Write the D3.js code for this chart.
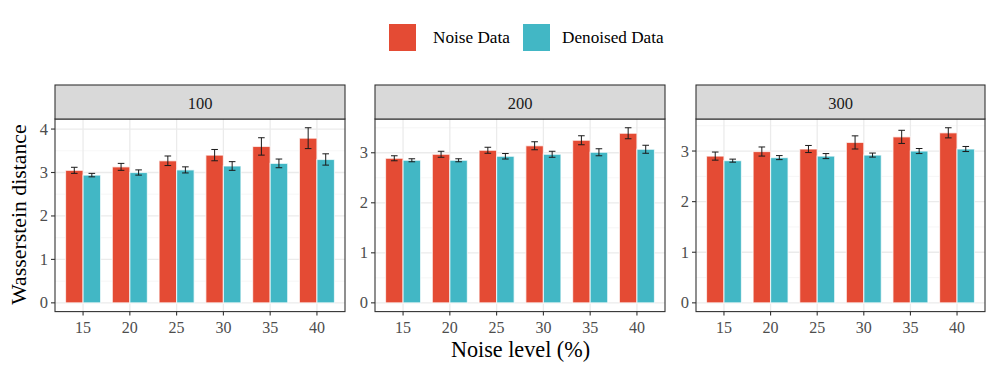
<!DOCTYPE html>
<html>
<head>
<meta charset="utf-8">
<script src="https://cdn.jsdelivr.net/npm/d3@7"></script>
<style>
 body { margin: 0; background: #fff; }
</style>
</head>
<body>
<div id="chart"></div>
<script>
// data
var noiseLevels = [15, 20, 25, 30, 35, 40];
var facets = ["100", "200", "300"];
var seriesNames = ["Noise Data", "Denoised Data"];
var colors = ["#E44B34", "#42B7C5"];

var noiseMean = {
 "100": [3.05, 3.13, 3.27, 3.40, 3.60, 3.79],
 "200": [2.89, 2.97, 3.05, 3.14, 3.25, 3.39],
 "300": [2.90, 2.99, 3.04, 3.17, 3.28, 3.36]
};
var noiseErr = {
 "100": [0.07, 0.08, 0.11, 0.13, 0.20, 0.24],
 "200": [0.05, 0.06, 0.06, 0.08, 0.09, 0.11],
 "300": [0.08, 0.09, 0.07, 0.13, 0.13, 0.10]
};
var denoisedMean = {
 "100": [2.94, 3.00, 3.06, 3.15, 3.21, 3.30],
 "200": [2.85, 2.85, 2.93, 2.97, 3.01, 3.07],
 "300": [2.81, 2.87, 2.90, 2.92, 3.00, 3.04]
};
var denoisedErr = {
 "100": [0.04, 0.06, 0.07, 0.10, 0.10, 0.13],
 "200": [0.03, 0.03, 0.055, 0.06, 0.07, 0.08],
 "300": [0.03, 0.04, 0.05, 0.04, 0.05, 0.05]
};

var serif = "'Liberation Serif', 'DejaVu Serif', 'Times New Roman', Times, serif";

//svg dimensions
var svgWidth = 997;
var svgHeight = 374;

// panel x ranges
var panelX = [[55, 345], [375, 665], [696, 985]];
var stripTop = 85, stripBottom = 119, panelBottom = 311.6;

var svg = d3.select("#chart")
 .append("svg")
 .attr("width", svgWidth)
 .attr("height", svgHeight)
 .style("font-family", serif);

facets.forEach(function(f, i) {
 var x0 = panelX[i][0], x1 = panelX[i][1];
 var rows = noiseLevels.map(function(n, j) {
   return [
     { level: n, s: 0, mean: noiseMean[f][j], err: noiseErr[f][j] },
     { level: n, s: 1, mean: denoisedMean[f][j], err: denoisedErr[f][j] }
   ];
 }).flat();

 var ymax = d3.max(rows, d => d.mean + d.err);
 var y = d3.scaleLinear()
   .domain([-0.05 * ymax, ymax * 1.05])
   .range([panelBottom, stripBottom]);

 // ggplot discrete: expansion 0.6 units each side
 var step = (x1 - x0) / (noiseLevels.length - 1 + 1.2);
 var x = d3.scalePoint()
   .domain(noiseLevels)
   .range([x0 + 0.6 * step, x1 - 0.6 * step]);

 var g = svg.append("g");

 // grid
 var majors = d3.range(0, Math.floor(ymax * 1.05) + 1);
 var minors = d3.range(0.5, ymax * 1.05, 1);
 g.selectAll(".minor").data(minors).enter().append("line")
   .attr("x1", x0).attr("x2", x1)
   .attr("y1", d => y(d)).attr("y2", d => y(d))
   .attr("stroke", "#F2F2F2").attr("stroke-width", 0.7);
 g.selectAll(".major").data(majors).enter().append("line")
   .attr("x1", x0).attr("x2", x1)
   .attr("y1", d => y(d)).attr("y2", d => y(d))
   .attr("stroke", "#EBEBEB").attr("stroke-width", 1.3);
 g.selectAll(".vgrid").data(noiseLevels).enter().append("line")
   .attr("x1", d => x(d)).attr("x2", d => x(d))
   .attr("y1", stripBottom).attr("y2", panelBottom)
   .attr("stroke", "#EBEBEB").attr("stroke-width", 1.3);

 // bars
 var barW = step * 0.375;
 g.selectAll(".bar").data(rows).enter().append("rect")
   .attr("x", d => x(d.level) - barW + d.s * barW)
   .attr("y", d => y(d.mean))
   .attr("width", barW)
   .attr("height", d => y(0) - y(d.mean))
   .attr("fill", d => colors[d.s])
   .attr("stroke", "#fff")
   .attr("stroke-opacity", 0.7)
   .attr("stroke-width", 1.2);

 // error bars
 var capW = 3.3;
 var ecx = d => x(d.level) - barW / 2 + d.s * barW;
 var eb = g.selectAll(".eb").data(rows).enter().append("g")
   .attr("stroke", "#1a1a1a").attr("stroke-width", 1);
 eb.append("line")
   .attr("x1", ecx).attr("x2", ecx)
   .attr("y1", d => y(d.mean - d.err)).attr("y2", d => y(d.mean + d.err));
 eb.append("line")
   .attr("x1", d => ecx(d) - capW).attr("x2", d => ecx(d) + capW)
   .attr("y1", d => y(d.mean + d.err)).attr("y2", d => y(d.mean + d.err));
 eb.append("line")
   .attr("x1", d => ecx(d) - capW).attr("x2", d => ecx(d) + capW)
   .attr("y1", d => y(d.mean - d.err)).attr("y2", d => y(d.mean - d.err));

 // panel border
 g.append("rect")
   .attr("x", x0).attr("y", stripBottom)
   .attr("width", x1 - x0).attr("height", panelBottom - stripBottom)
   .attr("fill", "none").attr("stroke", "#333").attr("stroke-width", 1.1);

 // strip
 g.append("rect")
   .attr("x", x0).attr("y", stripTop)
   .attr("width", x1 - x0).attr("height", stripBottom - stripTop)
   .attr("fill", "#D9D9D9").attr("stroke", "#333").attr("stroke-width", 1.1);
 g.append("text")
   .attr("x", (x0 + x1) / 2).attr("y", 108.5)
   .attr("text-anchor", "middle")
   .attr("font-family", serif)
   .attr("font-size", 16.5).attr("fill", "#1a1a1a")
   .text(f);

 // y axis
 var ax = g.selectAll(".yt").data(majors).enter().append("g");
 ax.append("line")
   .attr("x1", x0 - 4).attr("x2", x0)
   .attr("y1", d => y(d)).attr("y2", d => y(d))
   .attr("stroke", "#333").attr("stroke-width", 1.1);
 ax.append("text")
   .attr("x", x0 - 7).attr("y", d => y(d) + 5.5)
   .attr("text-anchor", "end")
   .attr("font-family", serif)
   .attr("font-size", 16.5).attr("fill", "#4D4D4D")
   .text(d => d);

 // x axis
 var bx = g.selectAll(".xt").data(noiseLevels).enter().append("g");
 bx.append("line")
   .attr("x1", d => x(d)).attr("x2", d => x(d))
   .attr("y1", panelBottom).attr("y2", panelBottom + 4)
   .attr("stroke", "#333").attr("stroke-width", 1.1);
 bx.append("text")
   .attr("x", d => x(d)).attr("y", panelBottom + 21.5)
   .attr("text-anchor", "middle")
   .attr("font-family", serif)
   .attr("font-size", 16).attr("fill", "#4D4D4D")
   .text(d => d);
});

// axis titles
svg.append("text")
 .attr("transform", "translate(26,214.5) rotate(-90)")
 .attr("text-anchor", "middle")
 .attr("font-family", serif)
 .attr("font-size", 21.8)
 .text("Wasserstein distance");

svg.append("text")
 .attr("x", 520.5).attr("y", 357)
 .attr("text-anchor", "middle")
 .attr("font-family", serif)
 .attr("font-size", 22.2)
 .text("Noise level (%)");

// legend
var legendX = [389, 523];
var legendTextX = [433, 562];
seriesNames.forEach(function(name, i) {
 svg.append("rect")
   .attr("x", legendX[i]).attr("y", 24)
   .attr("width", 27).attr("height", 27)
   .attr("fill", colors[i]);
 svg.append("text")
   .attr("x", legendTextX[i]).attr("y", 42.5)
   .attr("font-family", serif)
   .attr("font-size", 17.2)
   .text(name);
});
</script>
</body>
</html>
